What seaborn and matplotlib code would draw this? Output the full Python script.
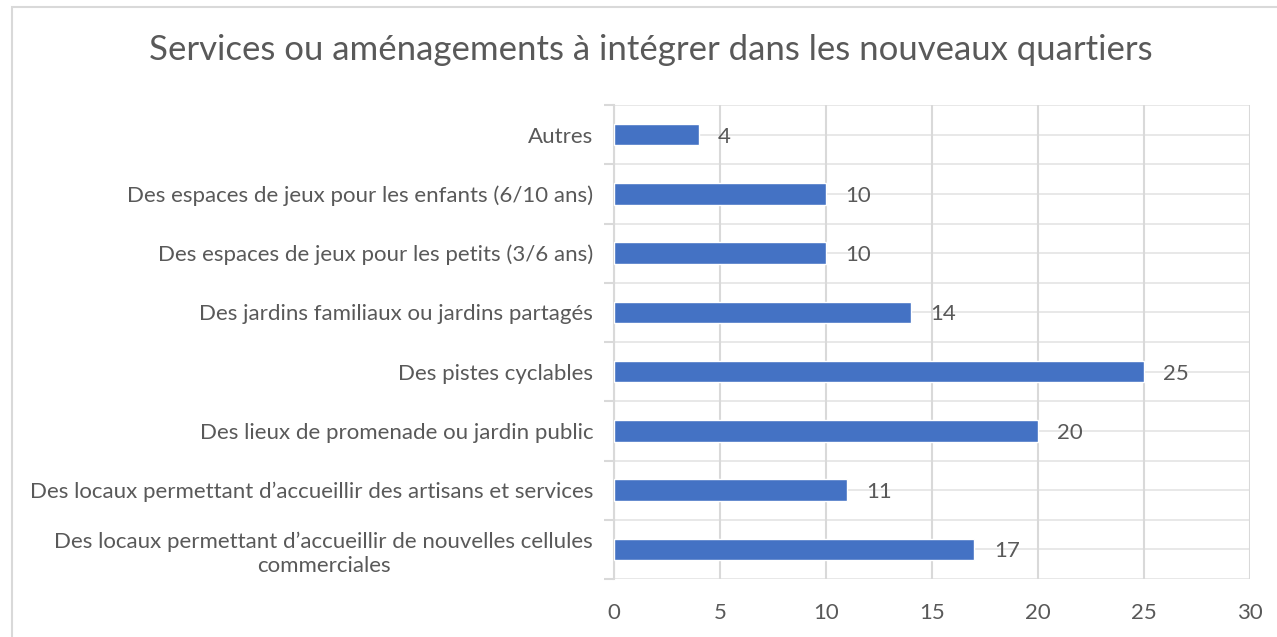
import matplotlib
matplotlib.use("Agg")
import matplotlib.pyplot as plt
from matplotlib.patches import Rectangle
from matplotlib.ticker import FixedLocator
import seaborn as sns
import pandas as pd

categories = [
    "Autres",
    "Des espaces de jeux pour les enfants (6/10 ans)",
    "Des espaces de jeux pour les petits (3/6 ans)",
    "Des jardins familiaux ou jardins partagés",
    "Des pistes cyclables",
    "Des lieux de promenade ou jardin public",
    "Des locaux permettant d’accueillir des artisans et services",
    "Des locaux permettant d’accueillir de nouvelles cellules\ncommerciales",
]
values = [4, 10, 10, 14, 25, 20, 11, 17]
x_ticks = [0, 5, 10, 15, 20, 25, 30]
title = "Services ou aménagements à intégrer dans les nouveaux quartiers"

sns.set_theme(style="white")
plt.rcParams["font.family"] = ["Lato", "DejaVu Sans"]

TEXT = "#595959"
GRID = "#D9D9D9"
BAR = "#4472C4"
FS = 16

df = pd.DataFrame({"cat": categories, "val": values})

fig = plt.figure(figsize=(12.77, 6.37), dpi=100)
ax = fig.add_axes([614/1277, 1-579/637, (1250-614)/1277, (579-105)/637])

sns.barplot(data=df, y="cat", x="val", orient="h", color=BAR, width=0.36,
            saturation=1, ax=ax, zorder=3)

ax.set_xlim(0, 30)
ax.set_ylim(len(categories)-0.5, -0.5)
ax.set_xticks(x_ticks)
ax.set_xticklabels([str(t) for t in x_ticks])
ax.set_xlabel("")
ax.set_ylabel("")

ax.yaxis.set_minor_locator(FixedLocator([i - 0.5 for i in range(len(categories)+1)]))
ax.grid(True, axis="x", which="major", color=GRID, lw=1.5, zorder=0)
ax.grid(True, axis="y", which="both", color=GRID, lw=1.2, alpha=0.7, zorder=0)
ax.set_axisbelow(True)

for s in ["top", "right", "bottom"]:
    ax.spines[s].set_visible(False)
ax.spines["left"].set_color(GRID)
ax.spines["left"].set_linewidth(1.5)

ax.tick_params(axis="y", which="major", length=0, pad=15, labelsize=FS, labelcolor=TEXT)
ax.tick_params(axis="y", which="minor", length=7, width=1.5, color=GRID, left=True)
ax.tick_params(axis="x", which="major", length=0, pad=17, labelsize=FS, labelcolor=TEXT)

for lab in ax.get_yticklabels():
    lab.set_multialignment("center")
    lab.set_linespacing(1.3)

for c in ax.containers:
    texts = ax.bar_label(c, labels=[str(v) for v in values], padding=14, fontsize=FS, color=TEXT)
    for t in texts:
        t.set_va("center_baseline")

fig.text(651/1277, 1-50/637, title, ha="center", va="center", fontsize=25, color=TEXT)

fig.add_artist(Rectangle((12/1277, -0.05), 1.2, 1-7/637+0.05, transform=fig.transFigure,
                         fill=False, ec=GRID, lw=1.5))

fig.savefig("out.png", dpi=100, facecolor="white")
